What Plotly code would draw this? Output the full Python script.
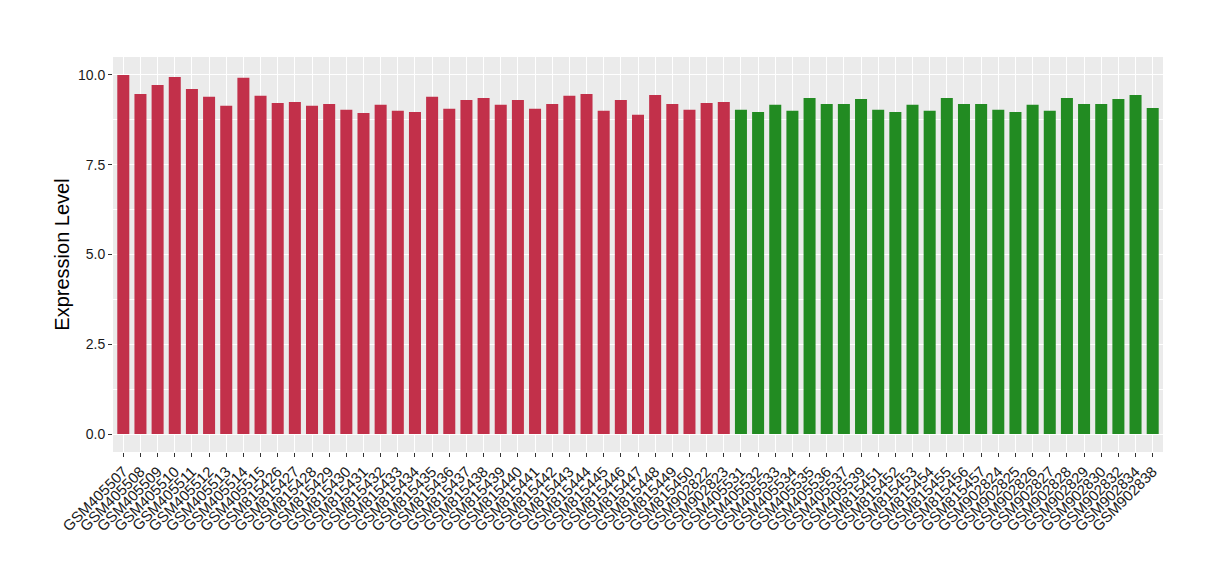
import plotly.graph_objects as go

red_samples = ["GSM405507", "GSM405508", "GSM405509", "GSM405510", "GSM405511", "GSM405512",
               "GSM405513", "GSM405514", "GSM405515", "GSM815426", "GSM815427", "GSM815428",
               "GSM815429", "GSM815430", "GSM815431", "GSM815432", "GSM815433", "GSM815434",
               "GSM815435", "GSM815436", "GSM815437", "GSM815438", "GSM815439", "GSM815440",
               "GSM815441", "GSM815442", "GSM815443", "GSM815444", "GSM815445", "GSM815446",
               "GSM815447", "GSM815448", "GSM815449", "GSM815450", "GSM902822", "GSM902823"]
red_values = [10.0, 9.47, 9.72, 9.94, 9.61, 9.39, 9.14, 9.92, 9.42, 9.22, 9.25, 9.14,
              9.19, 9.03, 8.94, 9.17, 9.0, 8.97, 9.39, 9.06, 9.3, 9.36, 9.17, 9.3,
              9.06, 9.19, 9.42, 9.47, 9.0, 9.3, 8.89, 9.44, 9.19, 9.03, 9.22, 9.25]

green_samples = ["GSM405531", "GSM405532", "GSM405533", "GSM405534", "GSM405535", "GSM405536",
                 "GSM405537", "GSM405539", "GSM815451", "GSM815452", "GSM815453", "GSM815454",
                 "GSM815455", "GSM815456", "GSM815457", "GSM902824", "GSM902825", "GSM902826",
                 "GSM902827", "GSM902828", "GSM902829", "GSM902830", "GSM902832", "GSM902834",
                 "GSM902838"]
green_values = [9.03, 8.97, 9.17, 9.0, 9.36, 9.19, 9.19, 9.33, 9.03, 8.97, 9.17, 9.0,
                9.36, 9.19, 9.19, 9.03, 8.97, 9.17, 9.0, 9.36, 9.19, 9.19, 9.33, 9.44, 9.08]

y_ticks = [0.0, 2.5, 5.0, 7.5, 10.0]
y_ticklabels = ["0.0", "2.5", "5.0", "7.5", "10.0"]

RED = "#C2304A"
GREEN = "#228B22"
FONT = "Liberation Sans, Arial, sans-serif"

all_samples = red_samples + green_samples

fig = go.Figure()
fig.add_trace(go.Bar(x=red_samples, y=red_values, marker=dict(color=RED, line=dict(width=0)),
                     width=0.7, showlegend=False))
fig.add_trace(go.Bar(x=green_samples, y=green_values, marker=dict(color=GREEN, line=dict(width=0)),
                     width=0.7, showlegend=False))

n = len(all_samples)
fig.update_layout(
    width=1212, height=572,
    margin=dict(l=105, r=57, t=49, b=128),
    paper_bgcolor="white",
    plot_bgcolor="#EBEBEB",
    font=dict(family=FONT, color="#1a1a1a"),
    bargap=0.3,
    xaxis=dict(
        type="category",
        categoryorder="array", categoryarray=all_samples,
        tickmode="array", tickvals=all_samples, ticktext=all_samples,
        range=[-0.6, n - 0.4],
        tickangle=-45,
        tickfont=dict(size=15, color="#1a1a1a"),
        ticks="outside", ticklen=4, tickcolor="#333333",
        showgrid=True, gridcolor="white", gridwidth=1.1,
        zeroline=False, showline=False,
        automargin=False,
    ),
    yaxis=dict(
        range=[-0.5, 10.5],
        tickvals=y_ticks, ticktext=y_ticklabels,
        tickfont=dict(size=14, color="#1a1a1a"),
        ticks="outside", ticklen=4, tickcolor="#333333",
        showgrid=True, gridcolor="white", gridwidth=1.1,
        minor=dict(tickvals=[1.25, 3.75, 6.25, 8.75], showgrid=True,
                   gridcolor="white", gridwidth=0.5, ticks=""),
        zeroline=False, showline=False,
        automargin=False,
        title=dict(text="Expression Level", font=dict(size=20, color="#000000"), standoff=2),
    ),
)

fig.write_html("out.html")
